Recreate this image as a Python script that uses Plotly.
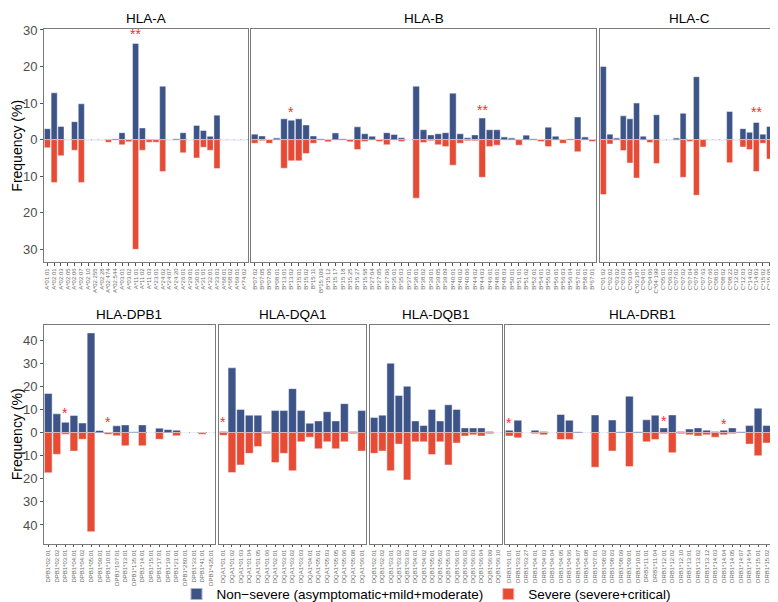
import plotly.graph_objects as go

W, H = 778, 602
BLUE = "#3C5488"
RED = "#E64B35"

# ---------------- data ----------------
A_cats = ["A*01:01","A*02:01","A*02:03","A*02:05","A*02:06","A*02:07","A*02:10","A*02:255","A*02:28",
          "A*02:474","A*02:544","A*03:01","A*03:02","A*11:01","A*11:02","A*11:03","A*23:01","A*24:02",
          "A*24:07","A*24:20","A*26:01","A*29:01","A*30:01","A*31:01","A*32:01","A*33:03","A*68:01",
          "A*68:02","A*69:01","A*74:02"]
A_nonsev = [3.0,12.8,3.6,0,4.9,9.8,0,0,0,0,0.3,1.9,0,26.3,3.2,0.2,0,14.6,0,0.3,1.9,0,3.9,2.5,0.9,6.7,0,0,0,0]
A_sev = [2.2,11.7,4.4,0,2.9,11.7,0,0,0,0.7,0,1.4,0.6,30.0,2.9,0.7,0.7,8.7,0,0,3.6,0,5.0,2.1,2.9,7.9,0,0,0,0]

B_cats = ["B*07:02","B*07:05","B*07:06","B*08:01","B*13:01","B*13:02","B*15:01","B*15:02","B*15:11",
          "B*15:109","B*15:12","B*15:17","B*15:18","B*15:25","B*15:27","B*15:58","B*27:04","B*27:05",
          "B*27:06","B*35:01","B*35:03","B*37:01","B*38:01","B*38:02","B*39:01","B*39:05","B*39:09",
          "B*40:01","B*40:02","B*40:06","B*44:02","B*44:03","B*46:01","B*48:01","B*48:03","B*50:01",
          "B*51:01","B*51:02","B*52:01","B*54:01","B*55:02","B*56:01","B*56:03","B*56:04","B*57:01",
          "B*58:01","B*67:01"]
B_nonsev = [1.5,1.0,0,0.5,5.7,5.3,5.7,4.0,1.0,0.3,0,1.9,0.3,0,3.5,1.6,1.0,0,1.9,1.5,0.5,0,
            14.6,2.7,1.3,1.6,1.9,12.7,1.6,0.5,1.3,5.9,2.7,2.7,0.8,0.5,0,1.3,0.3,0,3.4,1.0,0,0.3,6.2,0.8,0]
B_sev = [1.0,0.3,1.0,0,7.8,5.8,5.8,3.8,1.0,0,0.6,0,0,0.6,2.7,0.5,0,0.5,1.4,0,0.5,0,
         16.0,0.8,0.3,1.4,1.9,7.0,1.0,0.3,0.3,10.3,1.9,1.5,0,0,1.5,0,0,0.5,1.9,0,1.0,0,3.3,0,0.5]

C_cats = ["C*01:02","C*02:02","C*03:02","C*03:03","C*03:04","C*03:187","C*04:01","C*04:06","C*04:199",
          "C*05:01","C*06:02","C*07:01","C*07:02","C*07:04","C*07:06","C*07:63","C*07:66","C*08:01",
          "C*08:02","C*08:22","C*12:02","C*12:03","C*14:02","C*14:03","C*15:02","C*15:05","C*16:02"]
C_nonsev = [20.0,1.5,0.5,6.5,5.7,10.0,1.0,0,6.8,0,0,0.5,7.2,0,17.2,0,0,0,0,7.7,0,3.0,2.0,4.7,1.5,3.6,1.2]
C_sev = [15.0,1.2,0,3.0,6.4,10.5,0,0.8,6.5,0,0,0,10.3,0.5,15.2,2.0,0,0,0,6.3,0,2.0,2.7,8.7,1.0,5.3,2.0]

DPB1_cats = ["DPB1*02:01","DPB1*02:02","DPB1*03:01","DPB1*04:01","DPB1*04:02","DPB1*05:01","DPB1*09:01",
             "DPB1*10:01","DPB1*107:01","DPB1*13:01","DPB1*135:01","DPB1*14:01","DPB1*15:01","DPB1*17:01",
             "DPB1*19:01","DPB1*21:01","DPB1*280:01","DPB1*33:01","DPB1*41:01","DPB1*435:01"]
DPB1_nonsev = [16.9,8.1,4.4,7.4,4.1,43.1,1.0,0.2,2.9,3.3,0.4,3.3,0,1.9,1.4,1.0,0,0,0,0]
DPB1_sev = [17.4,9.4,0.7,8.0,2.9,42.9,0,0.7,1.4,5.7,0,5.7,0,2.9,0,1.4,0,0,0.7,0]

DQA1_cats = ["DQA1*01:01","DQA1*01:02","DQA1*01:03","DQA1*01:04","DQA1*01:05","DQA1*01:06","DQA1*02:01",
             "DQA1*03:01","DQA1*03:02","DQA1*03:03","DQA1*04:01","DQA1*05:01","DQA1*05:03","DQA1*05:05",
             "DQA1*05:06","DQA1*05:08","DQA1*06:01"]
DQA1_nonsev = [0.5,28,10,7.5,7.5,0.5,9.5,9.5,19,9.5,4,5,9,5,12.5,0.5,9.5]
DQA1_sev = [1.2,17.3,14,9,6,0.5,13,9,16.5,4,2,7,4,7,4,0.5,8]

DQB1_cats = ["DQB1*02:01","DQB1*02:02","DQB1*03:01","DQB1*03:02","DQB1*03:03","DQB1*04:01","DQB1*04:02",
             "DQB1*05:01","DQB1*05:02","DQB1*05:03","DQB1*06:01","DQB1*06:02","DQB1*06:03","DQB1*06:04",
             "DQB1*06:09","DQB1*06:10"]
DQB1_nonsev = [6.5,7.5,30,16,20,5,3,10,5,12,10,2,2,2,0.5,0]
DQB1_sev = [9,8,16.5,5,20.5,4,4,9.5,4,14,4.5,1.5,1,1.5,0.5,0]

DRB1_cats = ["DRB1*01:01","DRB1*03:01","DRB1*03:27","DRB1*04:01","DRB1*04:03","DRB1*04:04","DRB1*04:05",
             "DRB1*04:06","DRB1*04:07","DRB1*04:08","DRB1*07:01","DRB1*08:02","DRB1*08:03","DRB1*08:09",
             "DRB1*09:01","DRB1*10:01","DRB1*11:01","DRB1*11:04","DRB1*12:01","DRB1*12:02","DRB1*12:10",
             "DRB1*13:01","DRB1*13:02","DRB1*13:12","DRB1*14:03","DRB1*14:04","DRB1*14:05","DRB1*14:07",
             "DRB1*14:54","DRB1*15:01","DRB1*15:02","DRB1*16:02"]
DRB1_nonsev = [1,5.3,0,1,0.5,0,7.8,5.3,0.5,0,7.6,0,5.4,0.5,15.7,0.5,5.5,7.5,2,7.6,0.5,1.5,2,1,0.5,1,2,0.5,3,10.5,3,5]
DRB1_sev = [1.5,2.3,0,0.5,1,0,3,3,0,0,15,0,8,0,14.7,0,4,3,0.5,8.7,0.5,1,1.5,1,2,1,0.5,0,5,10,4.5,6]

Y_ticks_top = [-30,-20,-10,0,10,20,30]
Y_ticks_bot = [-40,-30,-20,-10,0,10,20,30,40]

# asterisk annotations: (panel, category, text, y)
stars = [("HLA-A","A*11:01","**",29.0),("HLA-B","B*13:02","*",7.5),("HLA-B","B*44:03","**",8.0),
         ("HLA-C","C*14:03","**",7.5),("HLA-DPB1","DPB1*03:01","*",8.5),("HLA-DPB1","DPB1*10:01","*",4.5),
         ("HLA-DQA1","DQA1*01:01","*",4.5),("HLA-DRB1","DRB1*01:01","*",4.0),("HLA-DRB1","DRB1*12:01","*",5.0),
         ("HLA-DRB1","DRB1*14:04","*",3.5)]

# ---------------- layout ----------------
rows = {
    0: dict(top=15, bottom=251, rng=[-33.6, 30.3], ticks=Y_ticks_top),
    1: dict(top=314, bottom=535, rng=[-48.1, 46.6], ticks=Y_ticks_bot),
}
panels = [
    ("HLA-A", A_cats, A_nonsev, A_sev, 36, 239.5, 0),
    ("HLA-B", B_cats, B_nonsev, B_sev, 243, 588, 0),
    ("HLA-C", C_cats, C_nonsev, C_sev, 592, 771.5, 0),
    ("HLA-DPB1", DPB1_cats, DPB1_nonsev, DPB1_sev, 36, 207, 1),
    ("HLA-DQA1", DQA1_cats, DQA1_nonsev, DQA1_sev, 211, 358, 1),
    ("HLA-DQB1", DQB1_cats, DQB1_nonsev, DQB1_sev, 362, 494, 1),
    ("HLA-DRB1", DRB1_cats, DRB1_nonsev, DRB1_sev, 497, 771.5, 1),
]

fig = go.Figure()
layout = dict(
    width=W, height=H, margin=dict(l=0, r=0, t=0, b=0),
    paper_bgcolor="white", plot_bgcolor="white", barmode="relative", bargap=0.1,
    font=dict(family="Liberation Sans, Arial, sans-serif", color="#000"),
    showlegend=True,
    legend=dict(orientation="h", x=418 / W, xanchor="center", y=1 - 586 / H, yanchor="middle",
                bgcolor="rgba(0,0,0,0)",
                font=dict(size=13.5, color="#000"), itemwidth=30, traceorder="normal",
                itemsizing="constant"),
)
annotations = []
shapes = []
first_in_row = {0: True, 1: True}
pidx = {}
for i, (name, cats, ns, sv, x0, x1, r) in enumerate(panels, start=1):
    pidx[name] = i
    xa = "x" if i == 1 else f"x{i}"
    ya = "y" if i == 1 else f"y{i}"
    rr = rows[r]
    fig.add_trace(go.Bar(x=cats, y=ns, xaxis=xa, yaxis=ya, marker=dict(color=BLUE,
                         line=dict(color="rgba(255,255,255,0.55)", width=0.8)), width=0.9,
                         name="Non\u2212severe (asymptomatic+mild+moderate)", legendgroup="ns",
                         showlegend=(i == 1)))
    fig.add_trace(go.Bar(x=cats, y=[-v for v in sv], xaxis=xa, yaxis=ya, marker=dict(color=RED,
                         line=dict(color="rgba(255,255,255,0.55)", width=0.8)), width=0.9,
                         name="Severe (severe+critical)", legendgroup="sv", showlegend=(i == 1)))
    first = first_in_row[r]
    first_in_row[r] = False
    layout["xaxis" if i == 1 else f"xaxis{i}"] = dict(
        domain=[x0 / W, x1 / W], anchor=ya, type="category", categoryorder="array", categoryarray=cats,
        tickmode="array", tickvals=cats, ticktext=cats,
        range=[-0.5, len(cats) - 0.5], tickangle=-90, tickfont=dict(size=6, color="#6b6b6b"),
        ticks="outside", ticklen=2.5, tickwidth=0.8, tickcolor="#555", showline=True, mirror=True,
        linecolor="#7a7a7a", linewidth=1, showgrid=False, zeroline=False, fixedrange=True)
    layout["yaxis" if i == 1 else f"yaxis{i}"] = dict(
        domain=[1 - rr["bottom"] / H, 1 - rr["top"] / H], anchor=xa, range=rr["rng"],
        tickvals=rr["ticks"], ticktext=[str(abs(t)) for t in rr["ticks"]],
        showticklabels=first, ticks="outside" if first else "", ticklen=3, tickcolor="#555",
        tickfont=dict(size=13, color="#4d4d4d"), showline=True, mirror=True, linecolor="#7a7a7a",
        linewidth=1, showgrid=False, zeroline=False, fixedrange=True)
    shapes.append(dict(type="line", xref=f"{xa} domain", yref=ya, x0=0, x1=1, y0=0, y1=0,
                       line=dict(color="#6f7fb3", width=1), layer="below"))
    annotations.append(dict(text=name, xref="paper", yref="paper", x=(x0 + x1) / 2 / W,
                            y=1 - (rr["top"] - 1) / H, yanchor="bottom", xanchor="center",
                            showarrow=False, font=dict(size=13.5, color="#000")))

for r, rr in rows.items():
    annotations.append(dict(text="Frequency (%)", textangle=-90, xref="paper", yref="paper",
                            x=9 / W, y=1 - (rr["top"] + rr["bottom"]) / 2 / H, xanchor="center",
                            yanchor="middle", showarrow=False, font=dict(size=14, color="#000")))

for (pname, cat, txt, yv) in stars:
    i = pidx[pname]
    annotations.append(dict(text=txt, x=cat, y=yv, xref="x" if i == 1 else f"x{i}",
                            yref="y" if i == 1 else f"y{i}", showarrow=False,
                            font=dict(size=14, color="#ff2a2a"), yanchor="middle"))

layout["annotations"] = annotations
layout["shapes"] = shapes
fig.update_layout(**layout)
fig.write_html("out.html")
